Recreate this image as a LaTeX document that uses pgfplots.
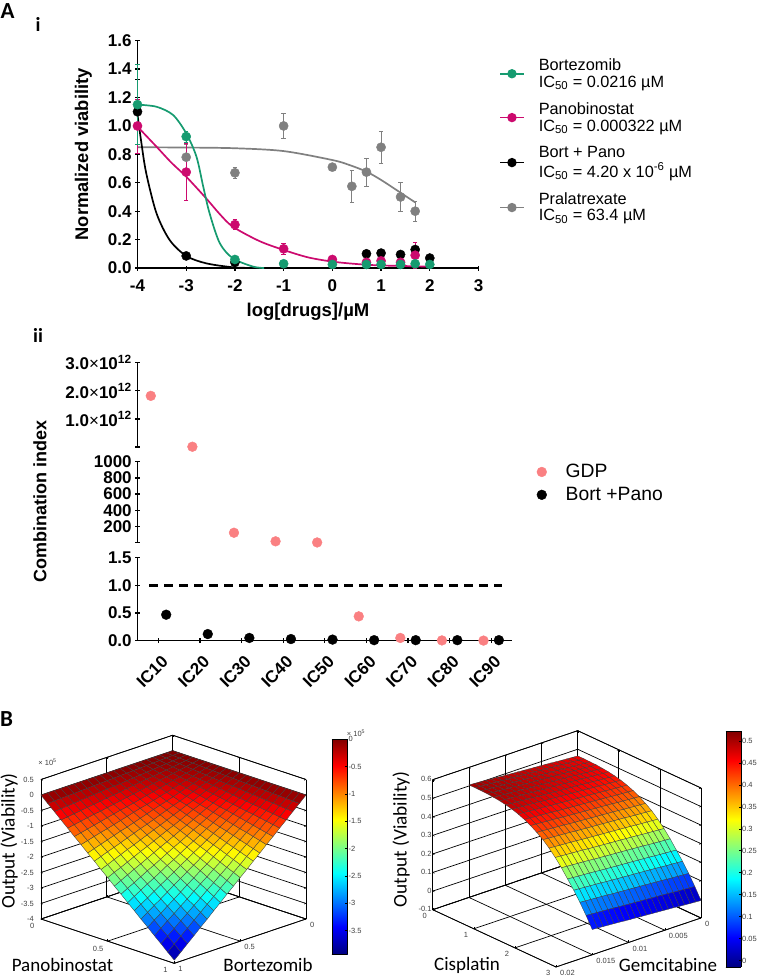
\documentclass[border=0pt]{standalone}
\usepackage{fontspec}
\setmainfont{Liberation Sans}
\newfontfamily\calib{Carlito}
\usepackage{pgfplots}
\pgfplotsset{compat=1.18}
\definecolor{bort}{RGB}{22,155,112}
\definecolor{pano}{RGB}{204,10,110}
\definecolor{prala}{RGB}{128,128,128}
\definecolor{gdp}{RGB}{250,128,130}
\newcommand{\fs}[1]{\fontsize{#1}{#1}\selectfont}
\pgfplotsset{
  colormap={myjet}{rgb255=(0,0,128) rgb255=(0,0,255) rgb255=(0,128,255) rgb255=(0,255,255) rgb255=(128,255,128) rgb255=(255,255,0) rgb255=(255,128,0) rgb255=(255,0,0) rgb255=(128,0,0)},
  prism/.style={scale only axis,clip=false,
    /pgf/number format/assume math mode=true,
    tick label style={font=\bfseries\fs{17}},
    axis line style={-,line width=1.3pt},
    tick style={line width=1.3pt,black},
    tick align=outside,major tick length=5pt,
    xtick pos=lower,ytick pos=left},
  noarrow/.style={x axis line style={-},y axis line style={-}},
  box3d/.style={disabledatascaling,
    /pgf/number format/assume math mode=true,
    colormap name=myjet,grid=major,
    grid style={black,line width=0.7pt},
    axis line style={black,line width=0.7pt},
    tick style={black,line width=0.4pt},
    major tick length=2pt,
    tick label style={font=\fs{7.5},text=black!75,inner sep=1pt},
    xticklabel style={anchor=west,xshift=3pt,yshift=-6pt},
    /pgf/number format/fixed},
  cbar/.style={scale only axis,
    /pgf/number format/assume math mode=true,
    colormap name=myjet,view={0}{90},xmin=0,xmax=1,xtick=\empty,
    yticklabel pos=right,ytick pos=right,
    tick label style={font=\fs{7.5},text=black!75,inner sep=1pt},
    major tick length=2pt,tick style={black,line width=0.4pt},
    /pgf/number format/fixed},
  legend image code/.code={\draw[#1,mark repeat=2,mark phase=2] plot coordinates {(0cm,0cm)(0.42cm,0cm)(0.84cm,0cm)};}
}
\begin{document}
\begin{tikzpicture}
\path[use as bounding box] (0,0) rectangle (757pt,-977pt);

% panel labels
\node[font=\calib\bfseries\fs{23},anchor=west,inner sep=0] at (0.5pt,-11pt) {A};
\node[font=\calib\bfseries\fs{20},anchor=center,inner sep=0] at (38pt,-24pt) {i};
\node[font=\calib\bfseries\fs{20},anchor=center,inner sep=0] at (38pt,-335pt) {ii};
\node[font=\calib\bfseries\fs{23},anchor=west,inner sep=0] at (0pt,-719pt) {B};

% A-i dose response
\begin{axis}[prism,at={(137.5pt,-268pt)},anchor=south west,width=341pt,height=227.3pt,
  axis x line=bottom,axis y line=left,noarrow,
  xmin=-4,xmax=3,ymin=0,ymax=1.6,
  xtick={-4,-3,-2,-1,0,1,2,3},ytick={0,0.2,0.4,0.6,0.8,1,1.2,1.4,1.6},
  xticklabel style={yshift=-6pt},
  yticklabel style={/pgf/number format/fixed,/pgf/number format/fixed zerofill,/pgf/number format/precision=1},
  xlabel={\bfseries log[drugs]/µM},ylabel={\bfseries Normalized viability},
  xlabel style={font=\bfseries\fs{18.5},at={(axis description cs:0.5,0)},anchor=center,yshift=-44pt},
  ylabel style={font=\bfseries\fs{18.3},at={(axis description cs:0,0.5)},anchor=center,yshift=54pt},
  legend style={at={(1.06,0.93)},anchor=north west,draw=none,fill=none,font=\fs{16.3},row sep=10pt,inner sep=0pt},
  legend cell align=left,
  error bars/error bar style={line width=0.8pt},
  error bars/error mark options={rotate=90,mark size=2.2pt,line width=0.8pt}]
% fitted curves
\addplot[prala,line width=1.7pt,smooth,forget plot] coordinates {(-4,0.85)(-3,0.848)(-2,0.843)(-1,0.823)(0,0.76)(0.35,0.725)(0.7,0.678)(1,0.62)(1.4,0.53)(1.7,0.462)};
\addplot[black,line width=1.7pt,smooth,forget plot] coordinates {(-4,1.08)(-3.92,0.88)(-3.82,0.666)(-3.61,0.385)(-3.34,0.197)(-3,0.085)(-2.59,0.033)(-2.04,0.005)(-1.6,0)};
\addplot[pano,line width=1.7pt,smooth,forget plot] coordinates {(-4,0.995)(-3.61,0.854)(-3.3,0.74)(-3,0.643)(-2.59,0.49)(-2.3,0.375)(-2.04,0.29)(-1.5,0.19)(-1,0.127)(-0.5,0.075)(0,0.045)(0.5,0.028)(1,0.018)(2,0.01)};
\addplot[bort,line width=1.7pt,smooth,forget plot] coordinates {(-4,1.15)(-3.61,1.135)(-3.27,1.077)(-3,0.948)(-2.79,0.784)(-2.65,0.572)(-2.52,0.385)(-2.31,0.174)(-2.04,0.068)(-1.63,0.01)(-1.4,0)};
% measured points
\addplot[prala,only marks,mark=*,mark size=4.6pt,forget plot,error bars/.cd,y dir=both,y explicit] coordinates {
 (-3,0.78)+-(0,0.09) (-2,0.67)+-(0,0.04) (-1,1.0)+-(0,0.09) (0,0.71)+-(0,0.02)
 (0.4,0.575)+-(0,0.115) (0.7,0.675)+-(0,0.1) (1,0.85)+-(0,0.115) (1.4,0.5)+-(0,0.1) (1.7,0.4)+-(0,0.07)};
\addplot[black,only marks,mark=*,mark size=4.6pt,forget plot,error bars/.cd,y dir=both,y explicit] coordinates {
 (-4,1.1)+-(0,0.23) (-3,0.085)+-(0,0.01) (-2,0.04)+-(0,0.01) (0.7,0.1)+-(0,0.005) (1,0.105)+-(0,0.005)
 (1.4,0.095)+-(0,0.005) (1.7,0.13)+-(0,0.02) (2,0.07)+-(0,0.005)};
\addplot[pano,only marks,mark=*,mark size=4.6pt,forget plot,error bars/.cd,y dir=both,y explicit] coordinates {
 (-4,1.0)+-(0,0.19) (-3,0.675)+-(0,0.2) (-2,0.305)+-(0,0.035) (-1,0.135)+-(0,0.04) (0,0.06)+-(0,0.01)
 (0.7,0.04)+-(0,0.005) (1,0.05)+-(0,0.005) (1.4,0.04)+-(0,0.005) (1.7,0.09)+-(0,0.09)};
\addplot[bort,only marks,mark=*,mark size=4.6pt,forget plot,error bars/.cd,y dir=both,y explicit] coordinates {
 (-4,1.15)+-(0,0.28) (-3,0.925)+-(0,0.04) (-2,0.06)+-(0,0.02) (-1,0.03)+-(0,0.005) (0,0.025)+-(0,0.005)
 (0.7,0.025)+-(0,0.005) (1,0.025)+-(0,0.005) (1.4,0.025)+-(0,0.005) (1.7,0.03)+-(0,0.005) (2,0.025)+-(0,0.005)};
\addlegendimage{bort,line width=1.7pt,mark=*,mark size=3.8pt,mark options={solid}}
\addlegendentry{\hspace{12pt}\shortstack[l]{Bortezomib\\[2pt]IC\textsubscript{50} = 0.0216 µM}}
\addlegendimage{pano,line width=1.7pt,mark=*,mark size=3.8pt}
\addlegendentry{\hspace{12pt}\shortstack[l]{Panobinostat\\[2pt]IC\textsubscript{50} = 0.000322 µM}}
\addlegendimage{black,line width=1.7pt,mark=*,mark size=3.8pt}
\addlegendentry{\hspace{12pt}\shortstack[l]{Bort + Pano\\[2pt]IC\textsubscript{50} = 4.20 x 10\textsuperscript{-6} µM}}
\addlegendimage{prala,line width=1.7pt,mark=*,mark size=3.8pt}
\addlegendentry{\hspace{12pt}\shortstack[l]{Pralatrexate\\[2pt]IC\textsubscript{50} = 63.4 µM}}
\end{axis}

% A-ii combination index, three y segments
\begin{axis}[prism,at={(137.7pt,-447pt)},anchor=south west,width=374.3pt,height=84.3pt,
  axis x line=none,axis y line=left,noarrow,xmin=0.5,xmax=9.5,ymin=0,ymax=3,
  ytick={0,1,2,3},
  yticklabels={,{1.0{\mdseries×}10\textsuperscript{12}},{2.0{\mdseries×}10\textsuperscript{12}},{3.0{\mdseries×}10\textsuperscript{12}}}]
\addplot[only marks,mark=*,mark size=4.9pt,gdp] coordinates {(0.815,1.82)(1.815,0.01)};
\end{axis}
\begin{axis}[prism,at={(137.7pt,-542.7pt)},anchor=south west,width=374.3pt,height=81pt,
  axis x line=none,axis y line=left,noarrow,xmin=0.5,xmax=9.5,ymin=0,ymax=1000,
  ytick={0,200,400,600,800,1000},yticklabels={,200,400,600,800,1000}]
\addplot[only marks,mark=*,mark size=4.9pt,gdp] coordinates {(2.815,123)(3.815,17)(4.815,3)};
\end{axis}
\begin{axis}[prism,at={(137.7pt,-640.7pt)},anchor=south west,width=374.3pt,height=83pt,
  axis x line=bottom,axis y line=left,noarrow,xmin=0.5,xmax=9.5,ymin=0,ymax=1.5,
  ytick={0,0.5,1,1.5},
  yticklabel style={/pgf/number format/fixed,/pgf/number format/fixed zerofill,/pgf/number format/precision=1},
  xtick={1,2,3,4,5,6,7,8,9},xticklabels={IC10,IC20,IC30,IC40,IC50,IC60,IC70,IC80,IC90},
  xticklabel style={rotate=45,anchor=north east,xshift=-3pt,yshift=-6pt},
  legend style={at={(1.066,1.896)},anchor=west,draw=none,fill=none,font=\fs{19.3},row sep=4pt,inner sep=0pt},
  legend cell align=left]
\addplot[black,line width=2.4pt,dash pattern=on 9pt off 6pt,forget plot] coordinates {(0.78,1)(9.25,1)};
\addplot[only marks,mark=*,mark size=4.9pt,gdp] coordinates {(5.815,0.44)(6.815,0.05)(7.815,0.005)(8.815,0.002)};
\addlegendentry{\hspace{17pt}GDP}
\addplot[only marks,mark=*,mark size=4.9pt,black] coordinates {(1.185,0.47)(2.185,0.12)(3.185,0.05)(4.185,0.03)(5.185,0.02)(6.185,0.01)(7.185,0.01)(8.185,0.01)(9.185,0.01)};
\addlegendentry{\hspace{17pt}Bort +Pano}
\end{axis}
\node[font=\bfseries\fs{18},rotate=90,inner sep=0] at (40pt,-501.7pt) {Combination index};

% B left surface
\begin{axis}[box3d,at={(172.7pt,-750.7pt)},anchor=origin,
  x={(-131.7pt,-44.3pt)},y={(133.3pt,-44.3pt)},z={(0pt,31pt)},
  xmin=0,xmax=1,ymin=0,ymax=1,zmin=-4,zmax=0.5,
  xtick={0,0.5,1},ytick={0,0.5,1},ztick={-4,-3.5,-3,-2.5,-2,-1.5,-1,-0.5,0,0.5},
  yticklabel style={xshift=-6pt,yshift=-3pt},zticklabel style={xshift=-6pt},
  point meta min=-3.93,point meta max=0]
\addplot3[surf,z buffer=sort,faceted color=black!75,line width=0.35pt,mesh/rows=21,mesh/cols=21]
 table[row sep=\\,header=false,x expr={(\coordindex-21*floor((\coordindex+0.5)/21))*0.05},y expr={floor((\coordindex+0.5)/21)*0.05},z index=0] {
0\\0\\0\\0\\0\\0\\0\\0\\0\\0\\0\\0\\0\\0\\0\\0\\0\\0\\0\\0\\0\\
0\\-.01\\-.02\\-.03\\-.04\\-.05\\-.06\\-.07\\-.08\\-.09\\-.10\\-.11\\-.12\\-.13\\-.14\\-.15\\-.16\\-.17\\-.18\\-.19\\-.20\\
0\\-.02\\-.04\\-.06\\-.08\\-.10\\-.12\\-.14\\-.16\\-.18\\-.20\\-.21\\-.23\\-.25\\-.27\\-.29\\-.31\\-.33\\-.35\\-.37\\-.39\\
0\\-.03\\-.06\\-.09\\-.12\\-.15\\-.18\\-.20\\-.23\\-.26\\-.29\\-.32\\-.35\\-.38\\-.41\\-.44\\-.47\\-.50\\-.53\\-.56\\-.59\\
0\\-.04\\-.08\\-.12\\-.16\\-.20\\-.23\\-.27\\-.31\\-.35\\-.39\\-.43\\-.47\\-.51\\-.55\\-.59\\-.62\\-.66\\-.70\\-.74\\-.78\\
0\\-.05\\-.10\\-.15\\-.20\\-.24\\-.29\\-.34\\-.39\\-.44\\-.49\\-.54\\-.59\\-.63\\-.68\\-.73\\-.78\\-.83\\-.88\\-.93\\-.98\\
0\\-.06\\-.12\\-.18\\-.23\\-.29\\-.35\\-.41\\-.47\\-.53\\-.59\\-.64\\-.70\\-.76\\-.82\\-.88\\-.94\\-.99\\-1.05\\-1.11\\-1.17\\
0\\-.07\\-.14\\-.20\\-.27\\-.34\\-.41\\-.48\\-.55\\-.61\\-.68\\-.75\\-.82\\-.89\\-.96\\-1.02\\-1.09\\-1.16\\-1.23\\-1.30\\-1.37\\
0\\-.08\\-.16\\-.23\\-.31\\-.39\\-.47\\-.55\\-.62\\-.70\\-.78\\-.86\\-.94\\-1.01\\-1.09\\-1.17\\-1.25\\-1.33\\-1.40\\-1.48\\-1.56\\
0\\-.09\\-.18\\-.26\\-.35\\-.44\\-.53\\-.61\\-.70\\-.79\\-.88\\-.97\\-1.05\\-1.14\\-1.23\\-1.32\\-1.40\\-1.49\\-1.58\\-1.67\\-1.76\\
0\\-.10\\-.20\\-.29\\-.39\\-.49\\-.59\\-.68\\-.78\\-.88\\-.98\\-1.07\\-1.17\\-1.27\\-1.37\\-1.46\\-1.56\\-1.66\\-1.76\\-1.85\\-1.95\\
0\\-.11\\-.21\\-.32\\-.43\\-.54\\-.64\\-.75\\-.86\\-.97\\-1.07\\-1.18\\-1.29\\-1.39\\-1.50\\-1.61\\-1.72\\-1.82\\-1.93\\-2.04\\-2.15\\
0\\-.12\\-.23\\-.35\\-.47\\-.59\\-.70\\-.82\\-.94\\-1.05\\-1.17\\-1.29\\-1.40\\-1.52\\-1.64\\-1.76\\-1.87\\-1.99\\-2.11\\-2.22\\-2.34\\
0\\-.13\\-.25\\-.38\\-.51\\-.63\\-.76\\-.89\\-1.01\\-1.14\\-1.27\\-1.39\\-1.52\\-1.65\\-1.77\\-1.90\\-2.03\\-2.15\\-2.28\\-2.41\\-2.54\\
0\\-.14\\-.27\\-.41\\-.55\\-.68\\-.82\\-.96\\-1.09\\-1.23\\-1.37\\-1.50\\-1.64\\-1.77\\-1.91\\-2.05\\-2.18\\-2.32\\-2.46\\-2.59\\-2.73\\
0\\-.15\\-.29\\-.44\\-.59\\-.73\\-.88\\-1.02\\-1.17\\-1.32\\-1.46\\-1.61\\-1.76\\-1.90\\-2.05\\-2.19\\-2.34\\-2.49\\-2.63\\-2.78\\-2.93\\
0\\-.16\\-.31\\-.47\\-.62\\-.78\\-.94\\-1.09\\-1.25\\-1.40\\-1.56\\-1.72\\-1.87\\-2.03\\-2.18\\-2.34\\-2.50\\-2.65\\-2.81\\-2.96\\-3.12\\
0\\-.17\\-.33\\-.50\\-.66\\-.83\\-.99\\-1.16\\-1.33\\-1.49\\-1.66\\-1.82\\-1.99\\-2.15\\-2.32\\-2.49\\-2.65\\-2.82\\-2.98\\-3.15\\-3.32\\
0\\-.18\\-.35\\-.53\\-.70\\-.88\\-1.05\\-1.23\\-1.40\\-1.58\\-1.76\\-1.93\\-2.11\\-2.28\\-2.46\\-2.63\\-2.81\\-2.98\\-3.16\\-3.33\\-3.51\\
0\\-.19\\-.37\\-.56\\-.74\\-.93\\-1.11\\-1.30\\-1.48\\-1.67\\-1.85\\-2.04\\-2.22\\-2.41\\-2.59\\-2.78\\-2.96\\-3.15\\-3.33\\-3.52\\-3.71\\
0\\-.20\\-.39\\-.59\\-.78\\-.98\\-1.17\\-1.37\\-1.56\\-1.76\\-1.95\\-2.15\\-2.34\\-2.54\\-2.73\\-2.93\\-3.12\\-3.32\\-3.51\\-3.71\\-3.90\\
};
\end{axis}
\node[font=\fs{7.5},text=black!75,inner sep=0] at (47.5pt,-762pt) {× 10\textsuperscript{5}};
\begin{axis}[cbar,at={(331.7pt,-954pt)},anchor=south west,width=15.6pt,height=214.7pt,
  ymin=-3.93,ymax=0,ytick={-3.5,-3,-2.5,-2,-1.5,-1,-0.5,0},point meta min=-3.93,point meta max=0]
\addplot3[surf,shader=interp,mesh/rows=2,mesh/cols=2,point meta=y] coordinates {(0,-3.93,0)(1,-3.93,0)(0,0,0)(1,0,0)};
\end{axis}
\node[font=\fs{7.5},text=black!75,inner sep=0] at (356pt,-733pt) {× 10\textsuperscript{5}};
\node[font=\calib\fs{19.3},rotate=90,inner sep=0] at (9pt,-841pt) {Output (Viability)};
\node[font=\calib\fs{19},inner sep=0] at (62.5pt,-965pt) {Panobinostat};
\node[font=\calib\fs{19},inner sep=0] at (268pt,-965pt) {Bortezomib};

% B right surface
\begin{axis}[box3d,at={(577.7pt,-842.1pt)},anchor=origin,
  x={(-7.25pt,-2.45pt)},y={(41.1pt,-19.1pt)},z={(0pt,185.7pt)},
  xmin=0,xmax=20,ymin=0,ymax=3,zmin=-0.1,zmax=0.6,
  xtick={0,5,10,15,20},xticklabels={0,0.005,0.01,0.015,0.02},ytick={0,1,2,3},
  ztick={-0.1,0,0.1,0.2,0.3,0.4,0.5,0.6},
  yticklabel style={xshift=-5pt,yshift=-2pt},
  point meta min=-0.014,point meta max=0.523]
\addplot3[surf,z buffer=sort,faceted color=black!75,line width=0.35pt,mesh/rows=21,mesh/cols=21]
 table[row sep=\\,header=false,x expr={(\coordindex-21*floor((\coordindex+0.5)/21))*0.75},y expr={floor((\coordindex+0.5)/21)*0.15},z index=0] {
.464\\.466\\.468\\.470\\.472\\.475\\.477\\.479\\.481\\.483\\.485\\.487\\.489\\.491\\.493\\.496\\.498\\.500\\.502\\.504\\.506\\
.464\\.466\\.468\\.470\\.472\\.475\\.477\\.479\\.481\\.483\\.485\\.487\\.489\\.491\\.493\\.496\\.498\\.500\\.502\\.504\\.506\\
.463\\.465\\.467\\.469\\.471\\.474\\.476\\.478\\.480\\.482\\.484\\.486\\.488\\.490\\.492\\.495\\.497\\.499\\.501\\.503\\.505\\
.462\\.464\\.466\\.468\\.470\\.473\\.475\\.477\\.479\\.481\\.483\\.485\\.487\\.489\\.491\\.494\\.496\\.498\\.500\\.502\\.504\\
.459\\.461\\.463\\.465\\.467\\.470\\.472\\.474\\.476\\.478\\.480\\.482\\.484\\.486\\.488\\.491\\.493\\.495\\.497\\.499\\.501\\
.455\\.457\\.459\\.461\\.463\\.466\\.468\\.470\\.472\\.474\\.476\\.478\\.480\\.482\\.484\\.487\\.489\\.491\\.493\\.495\\.497\\
.449\\.451\\.453\\.455\\.457\\.460\\.462\\.464\\.466\\.468\\.470\\.472\\.474\\.476\\.478\\.481\\.483\\.485\\.487\\.489\\.491\\
.441\\.443\\.445\\.447\\.449\\.452\\.454\\.456\\.458\\.460\\.462\\.464\\.466\\.468\\.470\\.473\\.475\\.477\\.479\\.481\\.483\\
.430\\.432\\.434\\.436\\.438\\.441\\.443\\.445\\.447\\.449\\.451\\.453\\.455\\.457\\.459\\.462\\.464\\.466\\.468\\.470\\.472\\
.416\\.418\\.420\\.422\\.424\\.427\\.429\\.431\\.433\\.435\\.437\\.439\\.441\\.443\\.445\\.448\\.450\\.452\\.454\\.456\\.458\\
.399\\.401\\.403\\.405\\.407\\.410\\.412\\.414\\.416\\.418\\.420\\.422\\.424\\.426\\.428\\.431\\.433\\.435\\.437\\.439\\.441\\
.378\\.380\\.382\\.384\\.386\\.389\\.391\\.393\\.395\\.397\\.399\\.401\\.403\\.405\\.407\\.410\\.412\\.414\\.416\\.418\\.420\\
.354\\.356\\.358\\.360\\.362\\.365\\.367\\.369\\.371\\.373\\.375\\.377\\.379\\.381\\.383\\.386\\.388\\.390\\.392\\.394\\.396\\
.324\\.326\\.328\\.330\\.332\\.335\\.337\\.339\\.341\\.343\\.345\\.347\\.349\\.351\\.353\\.356\\.358\\.360\\.362\\.364\\.366\\
.289\\.291\\.293\\.295\\.297\\.300\\.302\\.304\\.306\\.308\\.310\\.312\\.314\\.316\\.318\\.321\\.323\\.325\\.327\\.329\\.331\\
.249\\.251\\.253\\.255\\.257\\.260\\.262\\.264\\.266\\.268\\.270\\.272\\.274\\.276\\.278\\.281\\.283\\.285\\.287\\.289\\.291\\
.204\\.206\\.208\\.210\\.212\\.215\\.217\\.219\\.221\\.223\\.225\\.227\\.229\\.231\\.233\\.236\\.238\\.240\\.242\\.244\\.246\\
.159\\.161\\.163\\.165\\.167\\.170\\.172\\.174\\.176\\.178\\.180\\.182\\.184\\.186\\.188\\.191\\.193\\.195\\.197\\.199\\.201\\
.109\\.111\\.113\\.115\\.117\\.120\\.122\\.124\\.126\\.128\\.130\\.132\\.134\\.136\\.138\\.141\\.143\\.145\\.147\\.149\\.151\\
.054\\.056\\.058\\.060\\.062\\.065\\.067\\.069\\.071\\.073\\.075\\.077\\.079\\.081\\.083\\.086\\.088\\.090\\.092\\.094\\.096\\
-.006\\-.004\\-.002\\.000\\.002\\.005\\.007\\.009\\.011\\.013\\.015\\.017\\.019\\.021\\.023\\.026\\.028\\.030\\.032\\.034\\.036\\
};
\end{axis}
\begin{axis}[cbar,at={(725.7pt,-966.7pt)},anchor=south west,width=15.3pt,height=236pt,
  ymin=-0.014,ymax=0.523,ytick={0,0.05,0.1,0.15,0.2,0.25,0.3,0.35,0.4,0.45,0.5},point meta min=-0.014,point meta max=0.523]
\addplot3[surf,shader=interp,mesh/rows=2,mesh/cols=2,point meta=y] coordinates {(0,-0.014,0)(1,-0.014,0)(0,0.523,0)(1,0.523,0)};
\end{axis}
\node[font=\calib\fs{19.3},rotate=90,inner sep=0] at (401pt,-839.5pt) {Output (Viability)};
\node[font=\calib\fs{19},inner sep=0] at (467pt,-965pt) {Cisplatin};
\node[font=\calib\fs{19},inner sep=0] at (668pt,-965pt) {Gemcitabine};
\end{tikzpicture}
\end{document}
